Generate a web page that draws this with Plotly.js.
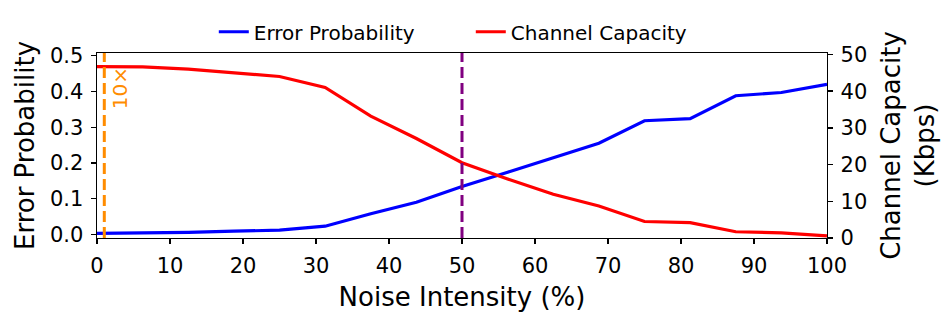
<!DOCTYPE html>
<html>
<head>
<meta charset="utf-8">
<script src="https://cdn.plot.ly/plotly-3.0.1.min.js"></script>
<style>
  body { margin: 0; background: #fff; }
  #chart { width: 947px; height: 322px; }
</style>
</head>
<body>
<div id="chart"></div>
<script>
'use strict'

// noise intensity (%) sampled every 6.25
let noiseLevels = [0, 6.25, 12.5, 18.75, 25, 31.25, 37.5, 43.75, 50, 56.25, 62.5, 68.75, 75, 81.25, 87.5, 93.75, 100]
let errorProb = [0.003, 0.004, 0.006, 0.009, 0.012, 0.023, 0.058, 0.090, 0.134, 0.174, 0.214, 0.255, 0.318, 0.324, 0.388, 0.397, 0.420]
let capacityKbps = [46.7, 46.6, 46.0, 45.0, 44.0, 41.0, 33.2, 27.1, 20.5, 16.1, 11.9, 8.7, 4.5, 4.2, 1.7, 1.4, 0.6]

let orangeMarkX = 1
let purpleMarkX = 50
let orangeLabel = '10×'

let font = 'DejaVu Sans, sans-serif'

let traces = [
  {
    x: noiseLevels, y: errorProb, type: 'scatter', mode: 'lines',
    name: 'Error Probability',
    line: {color: '#0000ff', width: 3.2}
  },
  {
    x: noiseLevels, y: capacityKbps, type: 'scatter', mode: 'lines',
    name: 'Channel Capacity', yaxis: 'y2',
    line: {color: '#ff0000', width: 3.2}
  }
]

let axisCommon = {
  showgrid: false, zeroline: false,
  showline: true, linecolor: '#000', linewidth: 1.4,
  ticks: 'outside', ticklen: 5, tickwidth: 1.4, tickcolor: '#000',
  ticklabelstandoff: 3,
  tickfont: {family: font, size: 21, color: '#000'}
}

let layout = {
  width: 947, height: 322,
  margin: {l: 97, r: 120, t: 47, b: 84},
  paper_bgcolor: '#fff', plot_bgcolor: '#fff',
  font: {family: font, color: '#000'},
  showlegend: true,
  legend: {
    orientation: 'h', x: 0.16, xanchor: 'left', y: 1.115, yanchor: 'middle',
    font: {family: font, size: 20, color: '#000'},
    bgcolor: 'rgba(0,0,0,0)', entrywidth: 212
  },
  xaxis: Object.assign({}, axisCommon, {
    range: [0, 100], tick0: 0, dtick: 10, mirror: true,
    title: {text: 'Noise Intensity (%)', font: {family: font, size: 26}, standoff: 11}
  }),
  yaxis: Object.assign({}, axisCommon, {
    range: [-0.01, 0.5076], tick0: 0, dtick: 0.1, tickformat: '.1f',
    title: {text: 'Error Probability', font: {family: font, size: 26}, standoff: 8}
  }),
  yaxis2: Object.assign({}, axisCommon, {
    overlaying: 'y', side: 'right',
    range: [0, 50.4], tick0: 0, dtick: 10,
    title: {text: 'Channel Capacity<br>(Kbps)', font: {family: font, size: 26}, standoff: 15}
  }),
  shapes: [
    {type: 'line', xref: 'x', yref: 'paper', x0: orangeMarkX, x1: orangeMarkX, y0: 0, y1: 1,
     line: {color: '#ff8c00', width: 3, dash: '11px,5px'}},
    {type: 'line', xref: 'x', yref: 'paper', x0: purpleMarkX, x1: purpleMarkX, y0: 0, y1: 1,
     line: {color: '#800080', width: 3, dash: '11px,5px'}}
  ],
  annotations: [
    {x: orangeMarkX, y: 0.41, xref: 'x', yref: 'y', text: orangeLabel, textangle: -90,
     showarrow: false, xshift: 16, font: {family: font, size: 20, color: '#ff8c00'}}
  ]
}

Plotly.newPlot('chart', traces, layout, {displayModeBar: false, staticPlot: true})
</script>
</body>
</html>
